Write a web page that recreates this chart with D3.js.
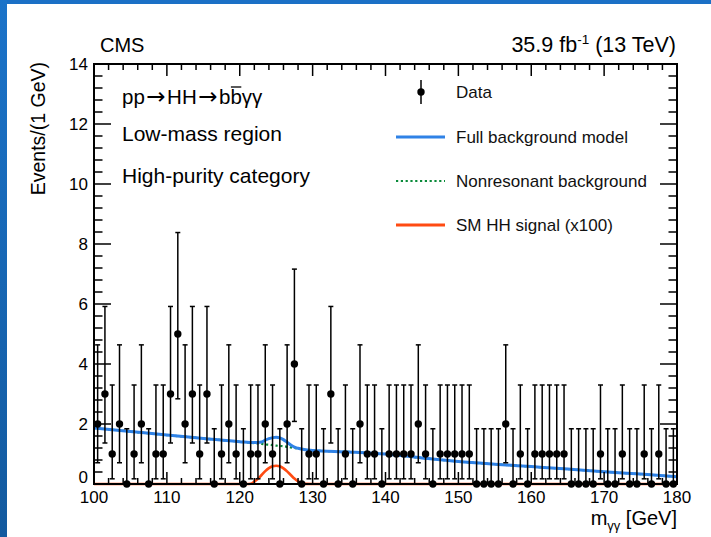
<!DOCTYPE html>
<html>
<head>
<meta charset="utf-8">
<script src="https://cdn.jsdelivr.net/npm/d3@7"></script>
<style>
  html, body { margin: 0; padding: 0; background: #fff; }
  svg { display: block; font-family: "Liberation Sans", Arial, Helvetica, sans-serif; }
</style>
</head>
<body>
<svg id="chart" width="711" height="537"></svg>
<script>
// Observed events per 1 GeV bin, m_gg from 100 to 180 GeV
const binLow = 100, binHigh = 180;
const counts = [
  2, 3, 1, 2, 0, 1, 2, 0, 1, 1,
  3, 5, 2, 3, 1, 3, 0, 1, 2, 1,
  0, 1, 1, 2, 1, 0, 2, 4, 0, 1,
  1, 0, 3, 0, 1, 0, 2, 1, 1, 0,
  1, 1, 1, 1, 2, 1, 0, 1, 1, 1,
  1, 1, 0, 0, 0, 0, 2, 0, 1, 0,
  1, 1, 1, 1, 1, 0, 0, 0, 0, 1,
  0, 0, 1, 0, 0, 1, 0, 1, 0, 0
];
// Poisson (Garwood) 68% interval bounds, indexed by observed count
const poissonLow  = [0, 0.173, 0.708, 1.367, 2.086, 2.840];
const poissonHigh = [1.841, 3.300, 4.638, 5.918, 7.163, 8.382];

// Background model curves
const bkgMass = [100, 105, 110, 115, 120, 122, 123, 123.5, 124, 125, 125.5, 126, 126.5, 127, 127.5, 128, 129, 130, 135, 140, 145, 150, 155, 160, 165, 170, 175, 180];
const fullBkg = [1.87, 1.75, 1.63, 1.52, 1.41, 1.38, 1.40, 1.46, 1.51, 1.56, 1.54, 1.48, 1.39, 1.30, 1.23, 1.19, 1.14, 1.12, 1.07, 1.00, 0.87, 0.75, 0.66, 0.58, 0.50, 0.41, 0.33, 0.24];
const nonresBkg = [1.87, 1.75, 1.63, 1.52, 1.41, 1.36, 1.34, 1.32, 1.31, 1.28, 1.27, 1.26, 1.24, 1.22, 1.20, 1.18, 1.14, 1.12, 1.07, 1.00, 0.87, 0.75, 0.66, 0.58, 0.50, 0.41, 0.33, 0.24];

// SM HH signal shape (scaled x100)
const sigMass = [100, 121, 121.5, 122, 122.5, 123, 123.5, 124, 124.5, 125, 125.5, 126, 126.5, 127, 127.5, 128, 128.5, 129, 130, 180];
const signal  = [0, 0, 0.01, 0.08, 0.17, 0.30, 0.43, 0.53, 0.59, 0.61, 0.59, 0.52, 0.42, 0.30, 0.18, 0.09, 0.03, 0.005, 0, 0];

// Axis ticks
const xTicks = [100, 110, 120, 130, 140, 150, 160, 170, 180];
const yTicks = [0, 2, 4, 6, 8, 10, 12, 14];

const legendItems = ["Data", "Full background model", "Nonresonant background", "SM HH signal (x100)"];
const infoLines = ["Low-mass region", "High-purity category"];

const colors = { full: "#2f82e6", nonres: "#0a8a3a", signal: "#ff4b12" };

const svg = d3.select("#chart");
const W = 711, H = 537;
const plot = { left: 94, right: 677, top: 64, bottom: 484 };

// page decoration bars
const grad = svg.append("defs").append("linearGradient")
  .attr("id", "sideGrad").attr("x1", 0).attr("y1", 0).attr("x2", 0).attr("y2", 1);
grad.append("stop").attr("offset", "0%").attr("stop-color", "#1b73c9");
grad.append("stop").attr("offset", "100%").attr("stop-color", "#135a9f");
svg.append("rect").attr("x", 0).attr("y", 0).attr("width", W).attr("height", 4).attr("fill", "#1b70c6");
svg.append("rect").attr("x", 0).attr("y", 0).attr("width", 7).attr("height", H).attr("fill", "url(#sideGrad)");

const x = d3.scaleLinear().domain([binLow, binHigh]).range([plot.left, plot.right]);
const y = d3.scaleLinear().domain([0, 14]).range([plot.bottom, plot.top]);

const g = svg.append("g");

// curves
const line = (xs, ys) => d3.line()
  .x((d, i) => x(xs[i]))
  .y((d, i) => y(ys[i]))
  .curve(d3.curveMonotoneX)(ys);

g.append("path").attr("d", line(sigMass, signal))
  .attr("fill", "none").attr("stroke", colors.signal).attr("stroke-width", 2.6);
g.append("path").attr("d", line(bkgMass, nonresBkg))
  .attr("fill", "none").attr("stroke", colors.nonres).attr("stroke-width", 2.2)
  .attr("stroke-dasharray", "2.2,2.6");
g.append("path").attr("d", line(bkgMass, fullBkg))
  .attr("fill", "none").attr("stroke", colors.full).attr("stroke-width", 3);

// data points with Poisson error bars
const bins = counts.map((c, i) => ({ m: binLow + i + 0.5, n: c }));
const pts = g.append("g").selectAll("g").data(bins).join("g");
pts.append("line")
  .attr("x1", d => x(d.m)).attr("x2", d => x(d.m))
  .attr("y1", d => y(poissonLow[d.n])).attr("y2", d => y(poissonHigh[d.n]))
  .attr("stroke", "#000").attr("stroke-width", 1.5);
[d => poissonLow[d.n], d => poissonHigh[d.n]].forEach(f => {
  pts.append("line")
    .attr("x1", d => x(d.m) - 2.5).attr("x2", d => x(d.m) + 2.5)
    .attr("y1", d => y(f(d))).attr("y2", d => y(f(d)))
    .attr("stroke", "#000").attr("stroke-width", 1.5);
});
pts.append("circle")
  .attr("cx", d => x(d.m)).attr("cy", d => y(d.n)).attr("r", 3.7).attr("fill", "#000");

// frame and ticks (ROOT style, ticks inside on all four sides)
const axes = svg.append("g").attr("stroke", "#000").attr("fill", "none");
axes.append("rect").attr("x", plot.left).attr("y", plot.top)
  .attr("width", plot.right - plot.left).attr("height", plot.bottom - plot.top)
  .attr("stroke-width", 2);

const xMinor = d3.range(binLow, binHigh + 0.001, 2);
xMinor.forEach(v => {
  const major = xTicks.includes(v);
  const len = major ? 12 : 6;
  axes.append("line").attr("x1", x(v)).attr("x2", x(v))
    .attr("y1", plot.bottom).attr("y2", plot.bottom - len).attr("stroke-width", 1.5);
  axes.append("line").attr("x1", x(v)).attr("x2", x(v))
    .attr("y1", plot.top).attr("y2", plot.top + len).attr("stroke-width", 1.5);
});
const yMinor = d3.range(0, 14.001, 0.4);
yMinor.forEach(v => {
  const major = yTicks.some(t => Math.abs(t - v) < 1e-6);
  const len = major ? 17 : 8.5;
  axes.append("line").attr("x1", plot.left).attr("x2", plot.left + len)
    .attr("y1", y(v)).attr("y2", y(v)).attr("stroke-width", 1.5);
  axes.append("line").attr("x1", plot.right).attr("x2", plot.right - len)
    .attr("y1", y(v)).attr("y2", y(v)).attr("stroke-width", 1.5);
});

// tick labels
const txt = svg.append("g").attr("fill", "#000");
xTicks.forEach(v => {
  txt.append("text").attr("x", x(v)).attr("y", 503).attr("text-anchor", "middle")
    .attr("font-size", 17).text(v);
});
yTicks.forEach(v => {
  txt.append("text").attr("x", 88).attr("y", v === 0 ? 483 : y(v) + 6).attr("text-anchor", "end")
    .attr("font-size", 17).text(v);
});

// axis titles
const xt = txt.append("text").attr("x", plot.right).attr("y", 525).attr("text-anchor", "end").attr("font-size", 20);
xt.append("tspan").text("m");
xt.append("tspan").attr("font-size", 13).attr("dy", 5).text("γγ");
xt.append("tspan").attr("dy", -5).text(" [GeV]");

txt.append("text").attr("transform", `translate(45,${plot.top - 2}) rotate(-90)`)
  .attr("text-anchor", "end").attr("font-size", 19.5).text("Events/(1 GeV)");

// header
txt.append("text").attr("x", 100).attr("y", 52).attr("font-size", 20).text("CMS");
const lumi = txt.append("text").attr("x", 676).attr("y", 52).attr("text-anchor", "end").attr("font-size", 21.5);
lumi.append("tspan").text("35.9 fb");
lumi.append("tspan").attr("font-size", 13.5).attr("dy", -8).text("-1");
lumi.append("tspan").attr("dy", 8).text(" (13 TeV)");

// process label with anti-b overline
const proc = txt.append("text").attr("x", 122).attr("y", 104).attr("font-size", 20.5);
const arrow = sel => sel.append("tspan").attr("font-family", "'DejaVu Sans', sans-serif")
  .attr("font-size", 23).attr("dx", 1.5).text("→");
proc.append("tspan").text("pp");
arrow(proc);
proc.append("tspan").attr("dx", 1.5).text("HH");
arrow(proc);
proc.append("tspan").attr("dx", 1.5).text("b");
proc.append("tspan").text("b");
proc.append("tspan").text("γγ");
const procNode = proc.node();
const bStart = procNode.getStartPositionOfChar(7);
const bEnd = procNode.getEndPositionOfChar(7);
txt.append("line").attr("x1", bStart.x + 0.5).attr("x2", bEnd.x - 0.5)
  .attr("y1", 87).attr("y2", 87).attr("stroke", "#000").attr("stroke-width", 1.3);

infoLines.forEach((t, i) => {
  txt.append("text").attr("x", 122).attr("y", [141, 183][i]).attr("font-size", 21).text(t);
});

// legend
const legY = [92, 137, 181, 225];
const leg = svg.append("g");
leg.append("line").attr("x1", 421).attr("x2", 421).attr("y1", 80).attr("y2", 104)
  .attr("stroke", "#000").attr("stroke-width", 1.5);
leg.append("circle").attr("cx", 421).attr("cy", legY[0]).attr("r", 3.7).attr("fill", "#000");
leg.append("line").attr("x1", 396).attr("x2", 445).attr("y1", legY[1]).attr("y2", legY[1])
  .attr("stroke", colors.full).attr("stroke-width", 3);
leg.append("line").attr("x1", 396).attr("x2", 445).attr("y1", legY[2]).attr("y2", legY[2])
  .attr("stroke", colors.nonres).attr("stroke-width", 2.2).attr("stroke-dasharray", "2.2,2.6");
leg.append("line").attr("x1", 396).attr("x2", 445).attr("y1", legY[3]).attr("y2", legY[3])
  .attr("stroke", colors.signal).attr("stroke-width", 3);
legendItems.forEach((t, i) => {
  leg.append("text").attr("x", 456).attr("y", legY[i] + 5.5).attr("font-size", 17)
    .attr("fill", "#111").text(t);
});
</script>
</body>
</html>
